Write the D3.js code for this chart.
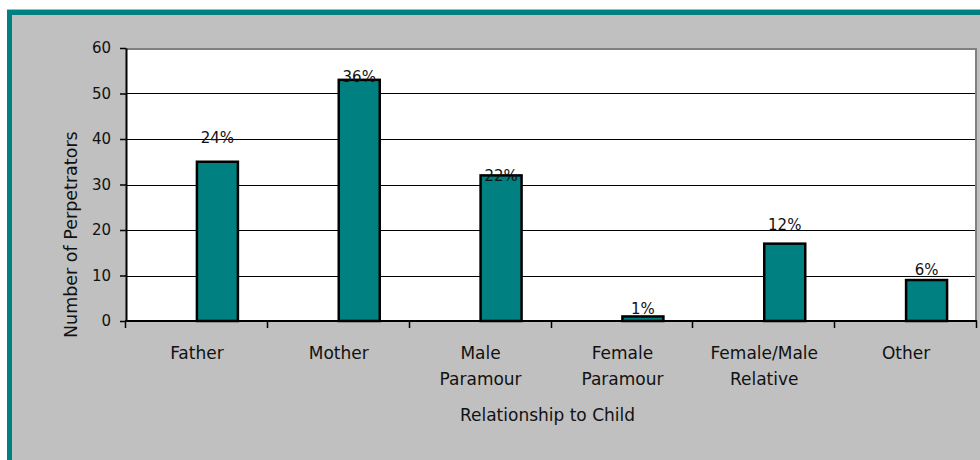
<!DOCTYPE html>
<html>
<head>
<meta charset="utf-8">
<script src="https://cdn.jsdelivr.net/npm/d3@7"></script>
<style>
  html, body { margin: 0; padding: 0; background: #fff; }
  svg { display: block; }
  text { font-family: "DejaVu Sans", Verdana, sans-serif; fill: #111; }
</style>
</head>
<body>
<svg id="chart" width="980" height="460"></svg>
<script>
// ---------------
// chart data
// ---------------
var categories = ['Father', 'Mother', 'Male Paramour', 'Female Paramour', 'Female/Male Relative', 'Other'];
var counts = [35, 53, 32, 1, 17, 9];
var percentLabels = ['24%', '36%', '22%', '1%', '12%', '6%'];
// where each percent label sits, in axis units
var labelAt = [40.4, 53.7, 31.9, 2.7, 21.1, 11.4];
var yTicks = [0, 10, 20, 30, 40, 50, 60];

var plot = { left: 126, right: 977, top: 48, bottom: 321 };

var svg = d3.select('#chart');

// outer frame
svg.append('rect')
  .attr('x', 9.5).attr('y', 12.5)
  .attr('width', 1000).attr('height', 500)
  .attr('fill', '#c0c0c0')
  .attr('stroke', '#008080')
  .attr('stroke-width', 5);
svg.append('line')
  .attr('x1', 7).attr('x2', 980).attr('y1', 9.5).attr('y2', 9.5)
  .attr('stroke', '#8cc4c4').attr('stroke-width', 1);

var x = d3.scaleBand().domain(categories).range([plot.left, plot.right]);
// excel-style cluster: an empty slot on the left, the count bar on the right
var x1 = d3.scaleBand().domain(['blank', 'count']).range([0, x.bandwidth()]).paddingOuter(0.73);
var y = d3.scaleLinear().domain([0, 60]).range([plot.bottom, plot.top]);

// plot area
svg.append('rect')
  .attr('x', plot.left).attr('y', plot.top)
  .attr('width', plot.right - plot.left).attr('height', plot.bottom - plot.top)
  .attr('fill', '#fff');
svg.append('path')
  .attr('d', 'M' + plot.left + ',' + (plot.top + 1) + 'H' + (plot.right - 1) + 'V' + plot.bottom)
  .attr('fill', 'none').attr('stroke', '#808080').attr('stroke-width', 2);

// gridlines
svg.append('g').selectAll('line')
  .data(yTicks.filter(function (t) { return t > 0 && t < 60; }))
  .enter().append('line')
  .attr('x1', plot.left).attr('x2', plot.right - 2)
  .attr('y1', function (d) { return Math.round(y(d)) + 0.5; })
  .attr('y2', function (d) { return Math.round(y(d)) + 0.5; })
  .attr('stroke', '#000').attr('stroke-width', 1);

// bars
svg.append('g').selectAll('rect')
  .data(counts)
  .enter().append('rect')
  .attr('x', function (d, i) { return x(categories[i]) + x1('count'); })
  .attr('y', function (d) { return y(d); })
  .attr('width', x1.bandwidth())
  .attr('height', function (d) { return y(0) - y(d); })
  .attr('fill', '#008080')
  .attr('stroke', '#000')
  .attr('stroke-width', 2.5);

// percent labels
svg.append('g').selectAll('text')
  .data(percentLabels)
  .enter().append('text')
  .attr('x', function (d, i) { return x(categories[i]) + x1('count') + x1.bandwidth() / 2; })
  .attr('y', function (d, i) { return y(labelAt[i]); })
  .attr('dy', '0.36em')
  .attr('text-anchor', 'middle')
  .attr('font-size', '15px')
  .text(function (d) { return d; });

// y axis
var yAxis = svg.append('g')
  .attr('transform', 'translate(' + plot.left + ',0)')
  .call(d3.axisLeft(y).tickValues(yTicks).tickSize(6).tickSizeOuter(0).tickPadding(9));
yAxis.select('.domain').attr('stroke', '#000').attr('stroke-width', 2);
yAxis.selectAll('.tick line').attr('stroke', '#000').attr('stroke-width', 1.5);
yAxis.selectAll('.tick text')
  .attr('font-family', '"DejaVu Sans", Verdana, sans-serif')
  .attr('font-size', '15px').attr('fill', '#111');

// x axis, ticks between categories
var xEdges = categories.map(function (c) { return x(c); }).concat([plot.right]);
var xAxis = svg.append('g').attr('class', 'x-axis');
xAxis.append('line')
  .attr('x1', plot.left - 1).attr('x2', plot.right)
  .attr('y1', plot.bottom).attr('y2', plot.bottom)
  .attr('stroke', '#000').attr('stroke-width', 2);
xAxis.selectAll('line.tick')
  .data(xEdges)
  .enter().append('line')
  .attr('class', 'tick')
  .attr('x1', function (d) { return Math.round(d) - 0.5; })
  .attr('x2', function (d) { return Math.round(d) - 0.5; })
  .attr('y1', plot.bottom).attr('y2', plot.bottom + 7)
  .attr('stroke', '#000').attr('stroke-width', 1.5);

// category labels, split onto two lines at the space
var catLabels = xAxis.selectAll('text.cat')
  .data(categories)
  .enter().append('text')
  .attr('class', 'cat')
  .attr('text-anchor', 'middle')
  .attr('font-size', '17px')
  .attr('transform', function (d) { return 'translate(' + (x(d) + x.bandwidth() / 2) + ',' + 359 + ')'; });
catLabels.selectAll('tspan')
  .data(function (d) { return d.split(' '); })
  .enter().append('tspan')
  .attr('x', 0)
  .attr('y', function (d, i) { return i * 26; })
  .text(function (d) { return d; });

// axis titles
svg.append('text')
  .attr('x', (plot.left + plot.right) / 2 - 4)
  .attr('y', 421)
  .attr('text-anchor', 'middle')
  .attr('font-size', '17px')
  .text('Relationship to Child');

svg.append('text')
  .attr('transform', 'translate(77,338) rotate(-90)')
  .attr('text-anchor', 'start')
  .attr('font-size', '17.5px')
  .text('Number of Perpetrators');
</script>
</body>
</html>
